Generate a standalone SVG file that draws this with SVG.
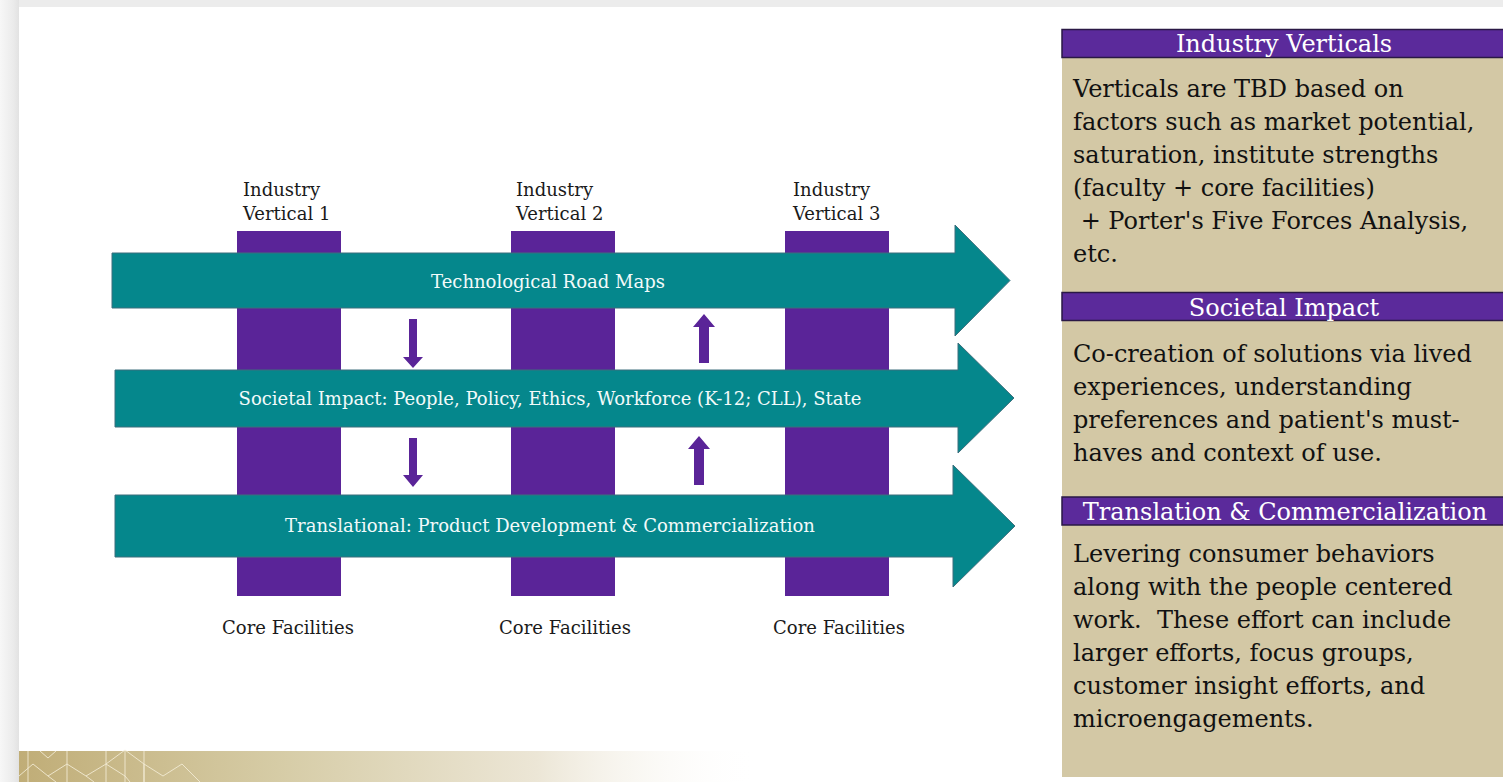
<svg xmlns="http://www.w3.org/2000/svg" width="1503" height="782" viewBox="0 0 1503 782">
<defs>
<style>
.lbl{font-family:"DejaVu Serif","Liberation Serif",serif;font-size:18px;fill:#1a1a1a}
.band{font-family:"DejaVu Serif","Liberation Serif",serif;font-size:18px;fill:#f2fafa;text-anchor:middle}
.hdr{font-family:"DejaVu Serif","Liberation Serif",serif;font-size:24px;fill:#ffffff;text-anchor:middle}
.body{font-family:"DejaVu Serif","Liberation Serif",serif;font-size:24px;fill:#111111}
.bar{fill:#5a2498}
.teal{fill:#05878c;stroke:#3d6f7c;stroke-width:1}
.small{fill:#5a2498}
.hbox{fill:#5b2a9b;stroke:#2a1845;stroke-width:1.5}
.tan{fill:#d3c8a5}
</style>
<linearGradient id="leftShade" x1="0" y1="0" x2="1" y2="0">
<stop offset="0" stop-color="#f7f7f7"/>
<stop offset="0.7" stop-color="#ebebeb"/>
<stop offset="1" stop-color="#e2e2e2"/>
</linearGradient>
<linearGradient id="gold" x1="0" y1="0" x2="1" y2="0">
<stop offset="0" stop-color="#c0ad77"/>
<stop offset="0.35" stop-color="#d6cca6"/>
<stop offset="0.7" stop-color="#ece6d6"/>
<stop offset="1" stop-color="#ffffff" stop-opacity="0"/>
</linearGradient>
</defs>
<rect x="0" y="0" width="1503" height="782" fill="#ececec"/>
<rect x="0" y="0" width="19" height="782" fill="url(#leftShade)"/>
<rect x="19" y="7" width="1484" height="775" fill="#ffffff"/>
<g id="footer-band">
<rect x="19" y="751" width="740" height="31" fill="url(#gold)"/>
<path d="M28,751 V782 M67,751 V782 M106,751 V782 M125,751 V782 M144,751 V782 M40,751 L48,758 L56,751 M19,776 L33,764 L48,776 L56,782 M48,776 L67,764 L86,776 L94,782 M86,776 L106,764 L125,750 L144,764 L163,776 L182,764 L200,782 M106,764 L125,776 L130,782 M144,764 L144,782" fill="none" stroke="#f3ecd6" stroke-width="1" opacity="0.85"/>
</g>
<g id="vertical-1"><rect class="bar" x="237" y="231" width="104" height="365"/><text class="lbl" x="243" y="196">Industry</text><text class="lbl" x="243" y="220">Vertical 1</text><text class="lbl" x="288" y="634" text-anchor="middle">Core Facilities</text></g>
<g id="vertical-2"><rect class="bar" x="511" y="231" width="104" height="365"/><text class="lbl" x="516" y="196">Industry</text><text class="lbl" x="516" y="220">Vertical 2</text><text class="lbl" x="565" y="634" text-anchor="middle">Core Facilities</text></g>
<g id="vertical-3"><rect class="bar" x="785" y="231" width="104" height="365"/><text class="lbl" x="793" y="196">Industry</text><text class="lbl" x="793" y="220">Vertical 3</text><text class="lbl" x="839" y="634" text-anchor="middle">Core Facilities</text></g>
<g id="band-tech"><path class="teal" d="M112,253 H955 V225 L1010,280.5 L955,336 V308 H112 Z"/><text class="band" x="548" y="288">Technological Road Maps</text></g>
<g id="band-societal"><path class="teal" d="M115,370 H958 V343 L1014,398 L958,453 V427 H115 Z"/><text class="band" x="550" y="405">Societal Impact: People, Policy, Ethics, Workforce (K-12; CLL), State</text></g>
<g id="band-translational"><path class="teal" d="M115,495 H953 V465 L1015,526 L953,587 V557 H115 Z"/><text class="band" x="550" y="532">Translational: Product Development &amp; Commercialization</text></g>
<g id="connectors">
<path class="small" d="M409,319 H417 V357 H423 L413,368 L403,357 H409 Z"/>
<path class="small" d="M409,438 H417 V475 H423 L413,487 L403,475 H409 Z"/>
<path class="small" d="M699,363 H709 V327 H715 L704,314 L693,327 H699 Z"/>
<path class="small" d="M694,485 H704 V449 H710 L699,436 L688,449 H694 Z"/>
</g>
<g id="panel-verticals">
<rect class="tan" x="1062" y="58" width="445" height="234"/>
<rect class="hbox" x="1062" y="29.5" width="445" height="28"/>
<text class="hdr" x="1284" y="52">Industry Verticals</text>
<text class="body" x="1073" y="97">Verticals are TBD based on</text>
<text class="body" x="1073" y="130">factors such as market potential,</text>
<text class="body" x="1073" y="163">saturation, institute strengths</text>
<text class="body" x="1073" y="196">(faculty + core facilities)</text>
<text class="body" x="1073" y="229" xml:space="preserve"> + Porter's Five Forces Analysis,</text>
<text class="body" x="1073" y="262">etc.</text>
</g>
<g id="panel-societal">
<rect class="tan" x="1062" y="321" width="445" height="176"/>
<rect class="hbox" x="1062" y="292.5" width="445" height="28"/>
<text class="hdr" x="1284" y="316">Societal Impact</text>
<text class="body" x="1073" y="362">Co-creation of solutions via lived</text>
<text class="body" x="1073" y="395">experiences, understanding</text>
<text class="body" x="1073" y="428">preferences and patient's must-</text>
<text class="body" x="1073" y="461">haves and context of use.</text>
</g>
<g id="panel-translation">
<rect class="tan" x="1062" y="525" width="445" height="252"/>
<rect class="hbox" x="1062" y="497" width="445" height="28"/>
<text class="hdr" x="1285" y="520">Translation &amp; Commercialization</text>
<text class="body" x="1073" y="562">Levering consumer behaviors</text>
<text class="body" x="1073" y="595">along with the people centered</text>
<text class="body" x="1073" y="628" xml:space="preserve">work.  These effort can include</text>
<text class="body" x="1073" y="661">larger efforts, focus groups,</text>
<text class="body" x="1073" y="694">customer insight efforts, and</text>
<text class="body" x="1073" y="727">microengagements.</text>
</g>
</svg>
